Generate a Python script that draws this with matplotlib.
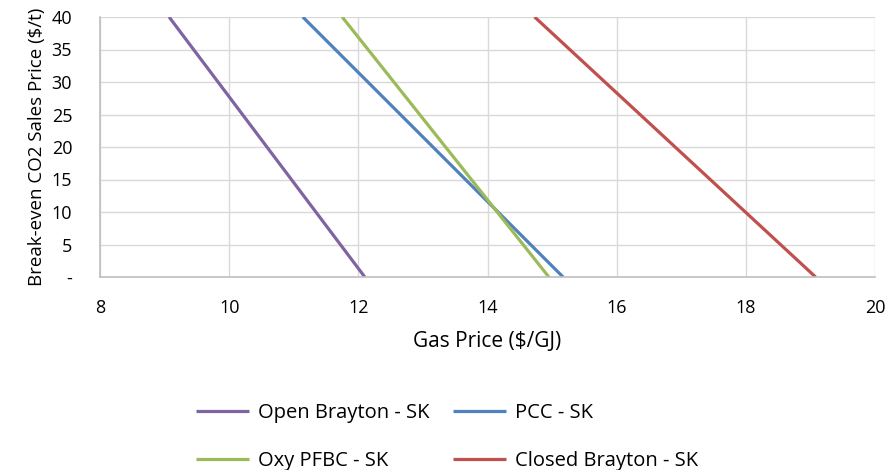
import matplotlib
matplotlib.use('Agg')
import matplotlib.pyplot as plt
from matplotlib.ticker import FuncFormatter

# Break-even lines: gas price at CO2 price 40 and 0
series = ['Open Brayton - SK', 'PCC - SK', 'Oxy PFBC - SK', 'Closed Brayton - SK']
co2_price = [40, 0]
gas_open = [9.07, 12.10]
gas_pcc = [11.14, 15.17]
gas_oxy = [11.75, 14.95]
gas_closed = [14.73, 19.08]
colors = ['#8064A2', '#4F81BD', '#9BBB59', '#C0504D']

plt.rcParams['font.family'] = ['Open Sans', 'DejaVu Sans']
fig = plt.figure(figsize=(8.86, 4.70), dpi=100)
ax = fig.add_axes([100 / 886, 1 - 277 / 470, 775 / 886, 260 / 470])

lines = []
for gas, name, c in zip([gas_open, gas_pcc, gas_oxy, gas_closed], series, colors):
    ln, = ax.plot(gas, co2_price, color=c, lw=2.3, label=name, solid_capstyle='butt')
    lines.append(ln)

ax.set_xlim(8, 20)
ax.set_ylim(0, 40)
ax.set_xticks(range(8, 21, 2))
ax.set_yticks(range(0, 41, 5))
ax.yaxis.set_major_formatter(FuncFormatter(lambda v, p: '-' if v == 0 else f'{v:.0f}'))
ax.grid(True, color='#d9d9d9', lw=1)
ax.set_axisbelow(True)
for s in ['top', 'right']:
    ax.spines[s].set_visible(False)
for s in ['left', 'bottom']:
    ax.spines[s].set_color('#bfbfbf')
    ax.spines[s].set_linewidth(1.2)
ax.tick_params(length=0, labelsize=13, colors='#000000')
ax.tick_params(axis='x', pad=16)
ax.tick_params(axis='y', pad=20)
ax.set_xlabel('Gas Price ($/GJ)', fontsize=15, labelpad=10)
ax.set_ylabel('Break-even CO2 Sales Price ($/t)', fontsize=13.5, labelpad=4)

# legend fills column-wise, so order for rows: Open/PCC, Oxy/Closed
fig.legend(handles=[lines[0], lines[2], lines[1], lines[3]], ncol=2, frameon=False,
           loc='center', bbox_to_anchor=(447 / 886, 1 - 437 / 470), fontsize=14.5,
           handlelength=2.65, handletextpad=0.45, columnspacing=1.15, labelspacing=1.35)

fig.savefig('out.png', dpi=100)
